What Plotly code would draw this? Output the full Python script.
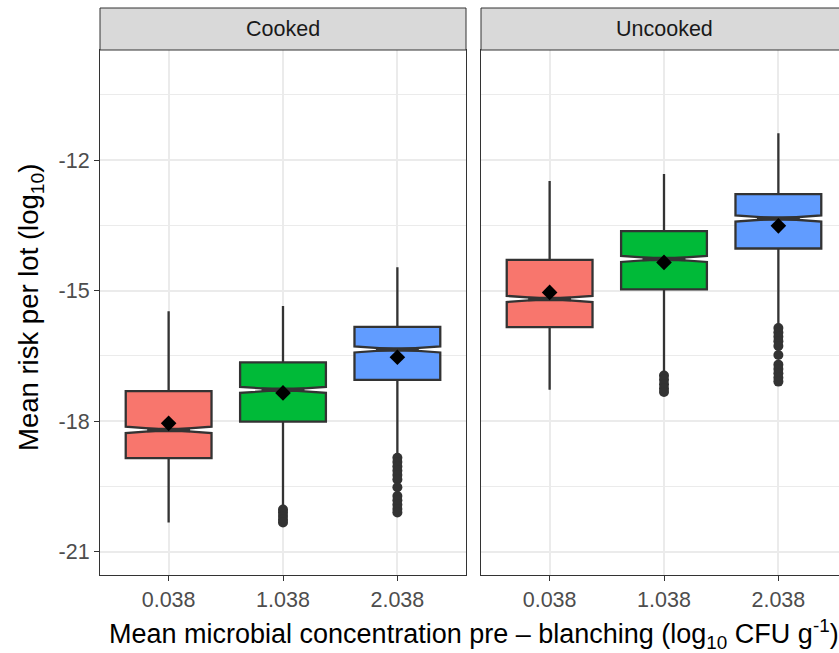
import plotly.graph_objects as go

categories = ['0.038', '1.038', '2.038']
positions = [1, 2, 3]
colors = ['#F8766D', '#00BA38', '#619CFF']

# Cooked panel statistics (log10 risk)
cooked_upper = [-15.47, -15.35, -14.46]
cooked_q3 = [-17.31, -16.65, -15.83]
cooked_median = [-18.20, -17.28, -16.35]
cooked_q1 = [-18.85, -18.01, -17.05]
cooked_lower = [-20.33, -19.97, -18.75]
cooked_mean = [-18.05, -17.35, -16.53]
cooked_notch = [0.075, 0.07, 0.07]
cooked_outliers = [
    [],
    [-20.03, -20.10, -20.18, -20.26, -20.33],
    [-18.84, -18.94, -19.04, -19.14, -19.24, -19.34, -19.52, -19.72, -19.82, -19.92, -20.02, -20.10],
]

# Uncooked panel statistics (log10 risk)
uncooked_upper = [-12.48, -12.32, -11.38]
uncooked_q3 = [-14.29, -13.63, -12.78]
uncooked_median = [-15.19, -14.27, -13.34]
uncooked_q1 = [-15.84, -14.97, -14.03]
uncooked_lower = [-17.28, -16.88, -15.79]
uncooked_mean = [-15.04, -14.35, -13.51]
uncooked_notch = [0.07, 0.07, 0.07]
uncooked_outliers = [
    [],
    [-16.95, -17.05, -17.15, -17.25, -17.33],
    [-15.86, -15.96, -16.06, -16.16, -16.27, -16.48, -16.70, -16.80, -16.90, -17.00, -17.09],
]

FONT = 'Liberation Sans, Arial, sans-serif'
EDGE = '#333333'
BOXW = 0.75

fig = go.Figure()

def add_panel(xa, ya, upper, q3, med, q1, lower, mean, notch, outliers):
    for i, p in enumerate(positions):
        fig.add_trace(go.Box(
            x=[p], q1=[q1[i]], median=[med[i]], q3=[q3[i]],
            lowerfence=[lower[i]], upperfence=[upper[i]], notchspan=[notch[i]],
            notched=True, notchwidth=0.5, width=BOXW, whiskerwidth=0,
            fillcolor=colors[i], line=dict(color=EDGE, width=2.3),
            boxpoints=False, xaxis=xa, yaxis=ya, showlegend=False, hoverinfo='skip'))
        # thick median line (ggplot fatten)
        fig.add_trace(go.Scatter(
            x=[p - BOXW / 4, p + BOXW / 4], y=[med[i], med[i]], mode='lines',
            line=dict(color=EDGE, width=4.5), xaxis=xa, yaxis=ya,
            showlegend=False, hoverinfo='skip'))
        if outliers[i]:
            fig.add_trace(go.Scatter(
                x=[p] * len(outliers[i]), y=outliers[i], mode='markers',
                marker=dict(color=EDGE, size=10, line=dict(width=0)),
                xaxis=xa, yaxis=ya, showlegend=False, hoverinfo='skip'))
    fig.add_trace(go.Scatter(
        x=positions, y=mean, mode='markers',
        marker=dict(symbol='diamond', color='black', size=12, line=dict(width=0)),
        xaxis=xa, yaxis=ya, showlegend=False, hoverinfo='skip'))

add_panel('x', 'y', cooked_upper, cooked_q3, cooked_median, cooked_q1,
          cooked_lower, cooked_mean, cooked_notch, cooked_outliers)
add_panel('x2', 'y2', uncooked_upper, uncooked_q3, uncooked_median, uncooked_q1,
          uncooked_lower, uncooked_mean, uncooked_notch, uncooked_outliers)

# Figure is a little wider than the window so the right panel runs past the
# window edge, as in the reference (page margin removed, overflow hidden).
W, H = 847, 653
ML, MR, MT, MB = 100, 0, 50, 78
pw = W - ML - MR
ph = H - MT - MB
left_end = 366 / pw
right_start = 381 / pw

yr = [-21.536, -9.467]
ytick = [-21, -18, -15, -12]
yminor = [-19.5, -16.5, -13.5, -10.5]

xcommon = dict(
    tickmode='array', tickvals=positions, ticktext=categories,
    showgrid=True, gridcolor='#EBEBEB', gridwidth=2,
    ticks='outside', ticklen=5, tickcolor=EDGE, tickwidth=1,
    tickfont=dict(family=FONT, size=21.5, color='#4D4D4D'),
    showline=True, linecolor=EDGE, linewidth=1, zeroline=False)

fig.update_layout(
    width=W, height=H,
    margin=dict(l=ML, r=MR, t=MT, b=MB),
    paper_bgcolor='white', plot_bgcolor='white',
    boxmode='overlay',
    xaxis=dict(domain=[0, left_end], range=[0.4, 3.6], mirror=True, anchor='y', **xcommon),
    xaxis2=dict(domain=[right_start, 1], range=[0.4, 3.6], mirror=True, anchor='y2', **xcommon),
    yaxis=dict(domain=[0, 1], range=yr, tickmode='array', tickvals=ytick,
               ticktext=[str(v) for v in ytick],
               showgrid=True, gridcolor='#EBEBEB', gridwidth=2,
               minor=dict(tickvals=yminor, showgrid=True, gridcolor='#EBEBEB', gridwidth=1),
               ticks='outside', ticklen=5, tickcolor=EDGE, tickwidth=1,
               tickfont=dict(family=FONT, size=21.5, color='#4D4D4D'),
               showline=True, linecolor=EDGE, linewidth=1, mirror=True, zeroline=False,
               anchor='x'),
    yaxis2=dict(domain=[0, 1], range=yr, tickmode='array', tickvals=ytick,
                showticklabels=False,
                showgrid=True, gridcolor='#EBEBEB', gridwidth=2,
                minor=dict(tickvals=yminor, showgrid=True, gridcolor='#EBEBEB', gridwidth=1),
                ticks='', showline=True, linecolor=EDGE, linewidth=1, mirror=True,
                zeroline=False, anchor='x2'),
)

strip_top = 1 + 42 / ph
for xr in ['x domain', 'x2 domain']:
    fig.add_shape(type='rect', xref=xr, yref='paper', x0=0, x1=1, y0=1, y1=strip_top,
                  fillcolor='#D9D9D9', line=dict(color=EDGE, width=1), layer='above')
fig.add_annotation(text='Cooked', xref='x domain', yref='paper', x=0.5, y=(1 + strip_top) / 2,
                   showarrow=False, font=dict(family=FONT, size=21.5, color='#1A1A1A'),
                   xanchor='center', yanchor='middle')
fig.add_annotation(text='Uncooked', xref='x2 domain', yref='paper', x=0.5, y=(1 + strip_top) / 2,
                   showarrow=False, font=dict(family=FONT, size=21.5, color='#1A1A1A'),
                   xanchor='center', yanchor='middle')

fig.add_annotation(
    text='Mean microbial concentration pre – blanching (log<sub>10</sub> CFU g<sup>-1</sup>)',
    xref='paper', yref='paper', x=0.5, y=-(634 - (H - MB)) / ph,
    showarrow=False, font=dict(family=FONT, size=27, color='black'),
    xanchor='center', yanchor='middle')
fig.add_annotation(
    text='Mean risk per lot (log<sub>10</sub>)',
    xref='paper', yref='paper', x=(30 - ML) / pw, y=(H - MB - 308) / ph,
    showarrow=False, textangle=-90, font=dict(family=FONT, size=27.5, color='black'),
    xanchor='center', yanchor='middle')

fig.write_html(
    'out.html',
    config={'displayModeBar': False},
    post_script=("document.documentElement.style.overflow='hidden';"
                 "document.body.style.margin='0';"
                 "document.body.style.overflow='hidden';"))
